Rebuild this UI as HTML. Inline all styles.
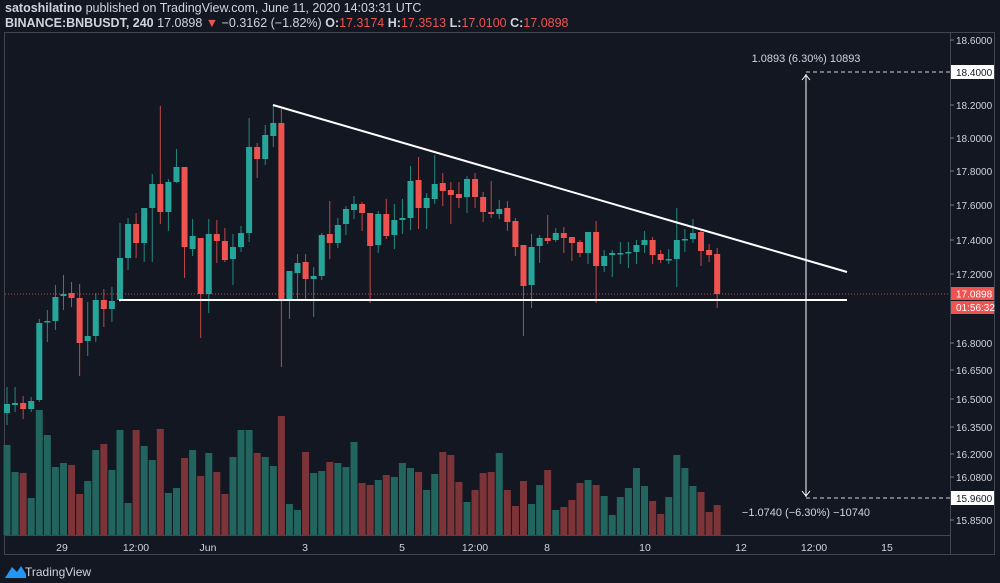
<!DOCTYPE html>
<html><head><meta charset="utf-8">
<style>
html,body{margin:0;padding:0;background:#131722;}
body{width:1000px;height:583px;overflow:hidden;position:relative;font-family:"Liberation Sans",sans-serif;}
.h1{position:absolute;left:5px;top:1px;font-size:12.5px;color:#d1d4dc;white-space:nowrap;}
.h2{position:absolute;left:5px;top:16px;font-size:12.5px;color:#d1d4dc;white-space:nowrap;}
b{font-weight:bold;}
.r{color:#ef5350;}
svg{position:absolute;left:0;top:0;}
</style></head><body>
<div class="h1"><b>satoshilatino</b> published on TradingView.com, June 11, 2020 14:03:31 UTC</div>
<div class="h2"><b>BINANCE:BNBUSDT, 240</b> 17.0898 <span class="r">▼</span> −0.3162 (−1.82%) <b>O:</b><span class="r">17.3174</span> <b>H:</b><span class="r">17.3513</span> <b>L:</b><span class="r">17.0100</span> <b>C:</b><span class="r">17.0898</span></div>
<svg id="s" width="1000" height="583" xmlns="http://www.w3.org/2000/svg">
<rect x="4.5" y="32.5" width="990" height="522" fill="#131722" stroke="#434651"/>
<line x1="950.5" y1="32" x2="950.5" y2="555" stroke="#434651"/>
<line x1="5" y1="535.5" x2="950" y2="535.5" stroke="#434651"/>
<g id="vol"></g>
<g id="cdl"></g>
<line x1="5" y1="294" x2="950" y2="294" stroke="#ef5350" stroke-width="1" stroke-dasharray="1,2" opacity="0.8"/>
<line x1="273" y1="105" x2="847" y2="272" stroke="#fff" stroke-width="2"/>
<line x1="119" y1="300" x2="847" y2="300" stroke="#fff" stroke-width="2"/>
<line x1="806" y1="74" x2="806" y2="497" stroke="#fff" stroke-width="1"/>
<path d="M802 80 L806 75 L810 80 M802 491 L806 496 L810 491" stroke="#fff" fill="none"/>
<line x1="806" y1="72" x2="950" y2="72" stroke="#d1d4dc" stroke-dasharray="4,3"/>
<line x1="806" y1="498" x2="950" y2="498" stroke="#d1d4dc" stroke-dasharray="4,3"/>
<text x="806" y="62" fill="#d1d4dc" font-size="11" text-anchor="middle" font-family="Liberation Sans, sans-serif">1.0893 (6.30%) 10893</text>
<text x="806" y="516" fill="#d1d4dc" font-size="11" text-anchor="middle" font-family="Liberation Sans, sans-serif">−1.0740 (−6.30%) −10740</text>
<g font-family="Liberation Sans, sans-serif" font-size="10" fill="#d1d4dc">
<g stroke="#787b86"><line x1="950" y1="40" x2="954" y2="40"/><line x1="950" y1="105" x2="954" y2="105"/><line x1="950" y1="138" x2="954" y2="138"/><line x1="950" y1="171" x2="954" y2="171"/><line x1="950" y1="205" x2="954" y2="205"/><line x1="950" y1="240" x2="954" y2="240"/><line x1="950" y1="274" x2="954" y2="274"/><line x1="950" y1="343" x2="954" y2="343"/><line x1="950" y1="370" x2="954" y2="370"/><line x1="950" y1="399" x2="954" y2="399"/><line x1="950" y1="427" x2="954" y2="427"/><line x1="950" y1="454" x2="954" y2="454"/><line x1="950" y1="477" x2="954" y2="477"/><line x1="950" y1="520" x2="954" y2="520"/></g>
<text x="956" y="44">18.6000</text>
<rect x="951" y="65" width="43" height="14" fill="#fff"/><text x="956" y="76" fill="#131722">18.4000</text>
<text x="956" y="109">18.2000</text>
<text x="956" y="142">18.0000</text>
<text x="956" y="175">17.8000</text>
<text x="956" y="209">17.6000</text>
<text x="956" y="244">17.4000</text>
<text x="956" y="278">17.2000</text>
<rect x="951" y="287" width="43" height="13" fill="#ef5350"/><text x="956" y="297.5" fill="#fff">17.0898</text>
<rect x="951" y="301" width="43" height="13" fill="#ef5350"/><text x="956" y="311" fill="#fff">01:56:32</text>
<text x="956" y="347">16.8000</text>
<text x="956" y="374">16.6500</text>
<text x="956" y="403">16.5000</text>
<text x="956" y="431">16.3500</text>
<text x="956" y="458">16.2000</text>
<text x="956" y="481">16.0800</text>
<rect x="951" y="491" width="43" height="14" fill="#fff"/><text x="956" y="502" fill="#131722">15.9600</text>
<text x="956" y="524">15.8500</text>
</g>
<g font-family="Liberation Sans, sans-serif" font-size="10.5" fill="#d1d4dc" text-anchor="middle">
<text x="62" y="551">29</text><text x="136" y="551">12:00</text><text x="208" y="551">Jun</text><text x="305" y="551">3</text><text x="402" y="551">5</text><text x="475" y="551">12:00</text><text x="547" y="551">8</text><text x="645" y="551">10</text><text x="741" y="551">12</text><text x="814" y="551">12:00</text><text x="887" y="551">15</text>
</g>
<path d="M5 578 L12 567 L17 572 L21 566 L26 574 L26 578 Z" fill="#2196f3"/>
<text x="25" y="576" fill="#d1d4dc" font-size="12" font-family="Liberation Sans, sans-serif">TradingView</text>
</svg>
<script>
var C=[[413,404,387,425],[405,403,387,412],[403,409,396,419],[409,401,397,412],[400,323,319,402],[322,321,310,342],[321,297,285,330],[296,294,275,310],[293,298,282,307],[298,343,284,376],[341,336,302,356],[336,300,293,342],[300,309,289,327],[309,301,287,322],[300,258,223,302],[258,224,218,270],[224,243,213,258],[243,208,208,262],[208,184,174,262],[184,212,106,224],[212,182,179,231],[182,167,149,183],[167,247,167,278],[249,236,219,256],[238,294,238,338],[294,234,219,313],[234,241,220,263],[241,260,228,262],[259,247,234,285],[247,233,226,252],[233,147,118,242],[147,159,143,178],[159,135,125,165],[136,123,105,147],[123,300,109,367],[300,271,271,319],[273,263,254,300],[262,279,254,300],[279,276,267,317],[276,235,233,280],[234,243,201,259],[243,225,218,248],[224,209,206,235],
[210,204,196,219],[204,213,202,231],[213,246,213,303],[245,214,211,253],[214,236,199,239],[235,220,204,249],[220,218,199,234],[218,181,166,230],[180,208,157,229],[208,198,193,229],[199,184,155,204],[183,191,173,206],[190,195,182,224],[194,198,182,208],[197,179,176,213],[179,197,173,208],[197,212,192,222],[212,214,181,218],[214,209,200,219],[208,222,201,231],[221,247,218,256],[245,286,245,336],[285,247,234,308],[246,238,235,263],[238,241,215,244],[240,233,228,242],[233,238,227,253],[237,243,237,261],[242,253,240,257],[253,232,232,264],[232,266,221,303],[266,256,250,272],[255,253,250,277],[254,253,242,264],[253,252,242,268],[252,245,240,264],[245,240,231,253],[240,255,237,264],[254,260,250,263],[260,259,249,264],[259,240,208,287],[240,239,229,252],[239,233,219,243],[232,251,229,266],[250,255,244,262],[254,294,248,308]];
var V=[445,472,473,498,410,435,467,463,465,494,481,450,444,470,430,503,430,446,460,429,493,488,458,450,476,453,472,494,457,430,430,453,457,466,416,504,510,452,473,471,462,463,467,442,483,485,480,475,477,463,468,472,490,474,452,455,482,502,490,473,472,453,490,506,481,504,485,470,510,507,500,483,480,485,496,515,497,488,468,486,501,514,497,455,468,486,492,512,505];
var c='',v='';
for(var i=0;i<C.length;i++){var x=7+i*8.07,d=C[i],up=d[1]<d[0],col=up?'#26a69a':'#ef5350';
var t=Math.min(d[0],d[1]),b=Math.max(d[0],d[1]);if(b-t<1.5)b=t+1.5;
c+='<line x1="'+x+'" y1="'+d[2]+'" x2="'+x+'" y2="'+d[3]+'" stroke="'+col+'" stroke-width="1" opacity="0.8"/>';
c+='<rect x="'+(x-3)+'" y="'+t+'" width="6" height="'+(b-t)+'" fill="'+col+'"/>';
v+='<rect x="'+(x-3.5)+'" y="'+V[i]+'" width="7" height="'+(535-V[i])+'" fill="'+(up?'#22645e':'#7d3438')+'"/>';}
document.getElementById('cdl').innerHTML=c;document.getElementById('vol').innerHTML=v;
</script>
</body></html>
